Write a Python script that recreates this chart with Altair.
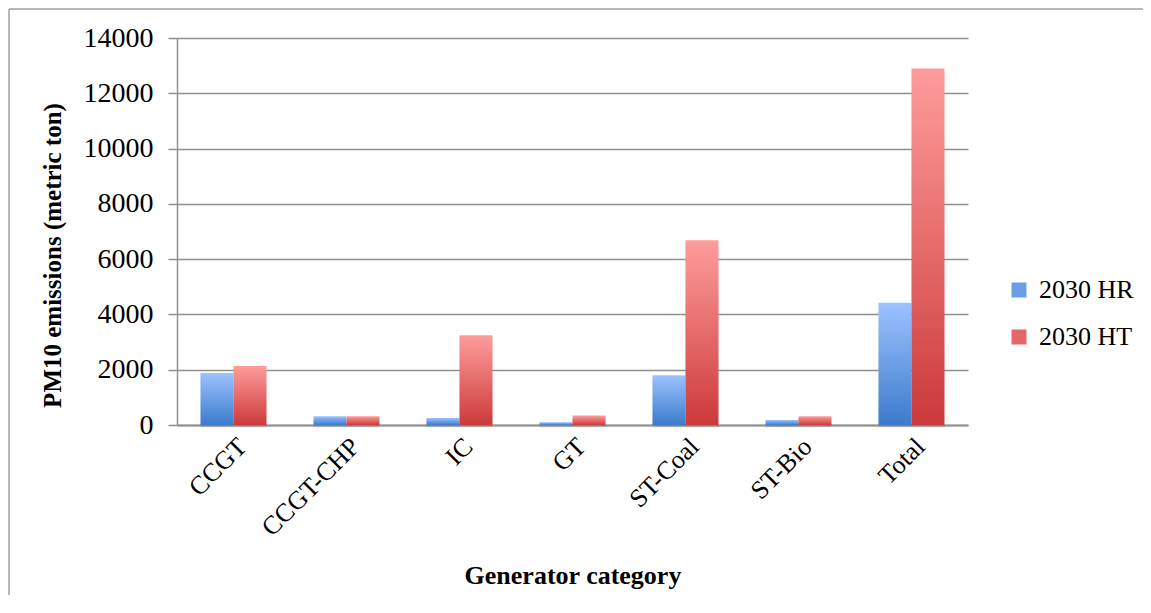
import altair as alt
import pandas as pd

categories = ["CCGT", "CCGT-CHP", "IC", "GT", "ST-Coal", "ST-Bio", "Total"]
series_names = ["2030 HR", "2030 HT"]
hr_values = [1880, 320, 250, 100, 1800, 180, 4420]
ht_values = [2130, 320, 3250, 340, 6680, 320, 12900]
y_ticks = [0, 2000, 4000, 6000, 8000, 10000, 12000, 14000]

rows = []
for c, h, t in zip(categories, hr_values, ht_values):
    rows.append({"category": c, "series": series_names[0], "value": h})
    rows.append({"category": c, "series": series_names[1], "value": t})
df = pd.DataFrame(rows)

FONT = "Liberation Serif"
W, H = 791, 387

grad_blue = alt.LinearGradient(
    gradient="linear", x1=0, y1=1, x2=0, y2=0,
    stops=[alt.GradientStop(color="#3b7bcc", offset=0),
           alt.GradientStop(color="#9cc2ff", offset=1)])
grad_red = alt.LinearGradient(
    gradient="linear", x1=0, y1=1, x2=0, y2=0,
    stops=[alt.GradientStop(color="#cc3a3a", offset=0),
           alt.GradientStop(color="#ff9c9c", offset=1)])

x_enc = alt.X("category:N", sort=categories,
              scale=alt.Scale(paddingInner=0.416, paddingOuter=0.208),
              axis=alt.Axis(title="Generator category", labelAngle=-45,
                            labelFontSize=26, labelPadding=8, ticks=False,
                            titleFontSize=26, titleFontWeight="bold",
                            titleY=150, titleBaseline="middle",
                            domainColor="#8f8f8f", domainWidth=2))
y_enc = alt.Y("value:Q", scale=alt.Scale(domain=[0, 14000], nice=False),
              axis=alt.Axis(title="PM10 emissions (metric ton)", values=y_ticks,
                            format="d", labelFontSize=28, labelPadding=15,
                            tickSize=9, tickColor="#8f8f8f", tickWidth=1.5,
                            gridColor="#8f8f8f", gridWidth=1.5,
                            titleFontSize=25, titleFontWeight="bold",
                            titleAngle=270, titleX=-125, titleY=217,
                            titleAlign="center", titleBaseline="middle",
                            domainColor="#8f8f8f", domainWidth=1.5))
xo_enc = alt.XOffset("series:N", sort=series_names,
                     scale=alt.Scale(domain=series_names, paddingInner=0, paddingOuter=0))

base = alt.Chart(df)

shadow1 = base.mark_bar(color="#000000", opacity=0.05, xOffset=2, yOffset=2).encode(
    x=x_enc, y=y_enc, xOffset=xo_enc)
shadow2 = base.mark_bar(color="#000000", opacity=0.04, xOffset=4, yOffset=3).encode(
    x=x_enc, y=y_enc, xOffset=xo_enc)

bars_hr = base.transform_filter(alt.datum.series == series_names[0]).mark_bar(
    color=grad_blue).encode(x=x_enc, y=y_enc, xOffset=xo_enc)
bars_ht = base.transform_filter(alt.datum.series == series_names[1]).mark_bar(
    color=grad_red).encode(x=x_enc, y=y_enc, xOffset=xo_enc)

legend_layer = base.mark_square(opacity=0).encode(
    x=x_enc, y=y_enc, xOffset=xo_enc,
    color=alt.Color("series:N", sort=series_names,
                    scale=alt.Scale(domain=series_names, range=["#6b9de6", "#e36767"]),
                    legend=alt.Legend(title=None, orient="none", legendX=829, legendY=239,
                                      symbolType="square", symbolSize=225,
                                      symbolOpacity=1, symbolStrokeWidth=0,
                                      labelFontSize=26, labelOffset=7,
                                      rowPadding=21, labelFont=FONT)))

border_df = pd.DataFrame({"k": [0]})
border_top = alt.Chart(border_df).mark_rule(color="#a0a0a0", strokeWidth=1.5).encode(
    x=alt.value(-168), x2=alt.value(1000), y=alt.value(-29))
border_left = alt.Chart(border_df).mark_rule(color="#a0a0a0", strokeWidth=1.5).encode(
    x=alt.value(-168), y=alt.value(-29), y2=alt.value(600))

chart = alt.layer(border_top, border_left, shadow2, shadow1, bars_hr, bars_ht,
                  legend_layer).properties(
    width=W, height=H,
    autosize=alt.AutoSizeParams(type="none"),
    padding={"left": 169, "top": 30, "right": 175, "bottom": 170},
).configure_view(stroke=None).configure_axis(
    labelFont=FONT, titleFont=FONT, labelColor="#000000", titleColor="#000000"
).configure_legend(labelFont=FONT, labelColor="#000000")

chart.save("out.html", embed_options={"renderer": "svg", "actions": False})
